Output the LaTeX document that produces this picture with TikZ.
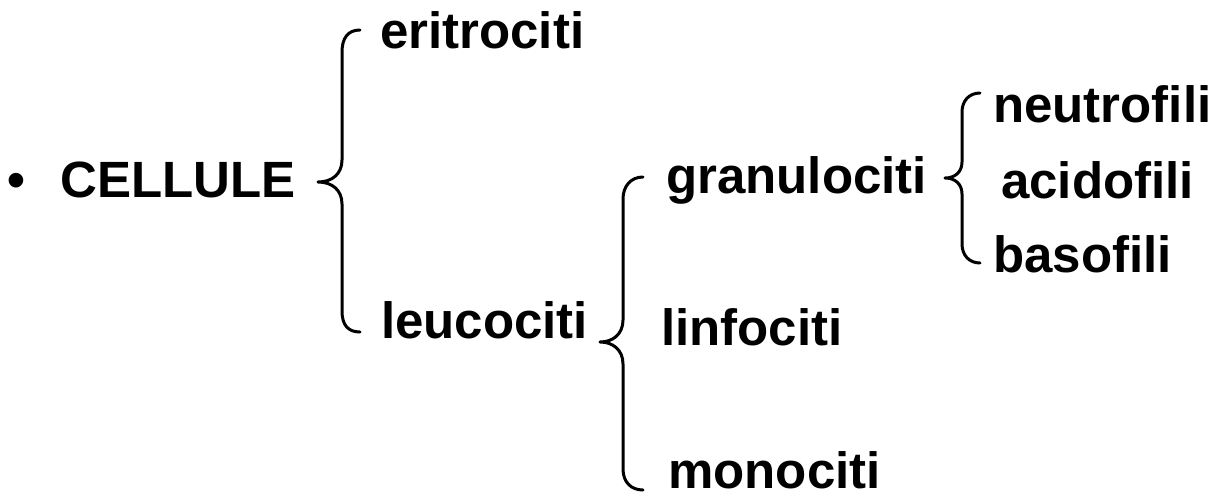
\documentclass[tikz,border=0pt]{standalone}
\usepackage{fontspec}
\setmainfont{Liberation Sans}
\begin{document}
\begin{tikzpicture}[x=1pt,y=-1pt,
  lbl/.style={anchor=base west,inner sep=0pt,font=\fontsize{51}{60}\selectfont\bfseries},
  brace/.style={draw=black,line width=3pt,line cap=round,line join=round}]
\useasboundingbox (0,0) rectangle (1223,501);
% texts
\node[lbl] (bullet) at (7.5,197) {•};
\node[lbl] (cellule) at (60,197) {CELLULE};
\node[lbl] (eritrociti) at (380,48) {eritrociti};
\node[lbl] (leucociti) at (381,338) {leucociti};
\node[lbl] (granulociti) at (666,193) {granulociti};
\node[lbl] (linfociti) at (661,345) {linfociti};
\node[lbl] (monociti) at (668,488) {monociti};
\node[lbl] (neutrofili) at (993,122) {neutrofili};
\node[lbl] (acidofili) at (1001,198) {acidofili};
\node[lbl] (basofili) at (993,272) {basofili};
% brace 1
\draw[brace] (360,30) .. controls (348,30) and (342,38) .. (342,52)
  -- (342,160) .. controls (342,174) and (332,182) .. (318,182)
  .. controls (332,182) and (342,190) .. (342,204)
  -- (342,311) .. controls (342,325) and (348,332) .. (360,332);
% brace 2
\draw[brace] (643,177) .. controls (631,177) and (623,186) .. (623,199)
  -- (623,320) .. controls (623,334) and (613,342) .. (600,342)
  .. controls (613,342) and (623,350) .. (623,364)
  -- (623,469) .. controls (623,482) and (631,490) .. (643,490);
% brace 3
\draw[brace] (980,93) .. controls (969,93) and (962,101) .. (962,112)
  -- (962,162) .. controls (962,172) and (955,178) .. (945,178)
  .. controls (955,178) and (962,184) .. (962,194)
  -- (962,244) .. controls (962,255) and (969,263) .. (980,263);
\end{tikzpicture}
\end{document}
